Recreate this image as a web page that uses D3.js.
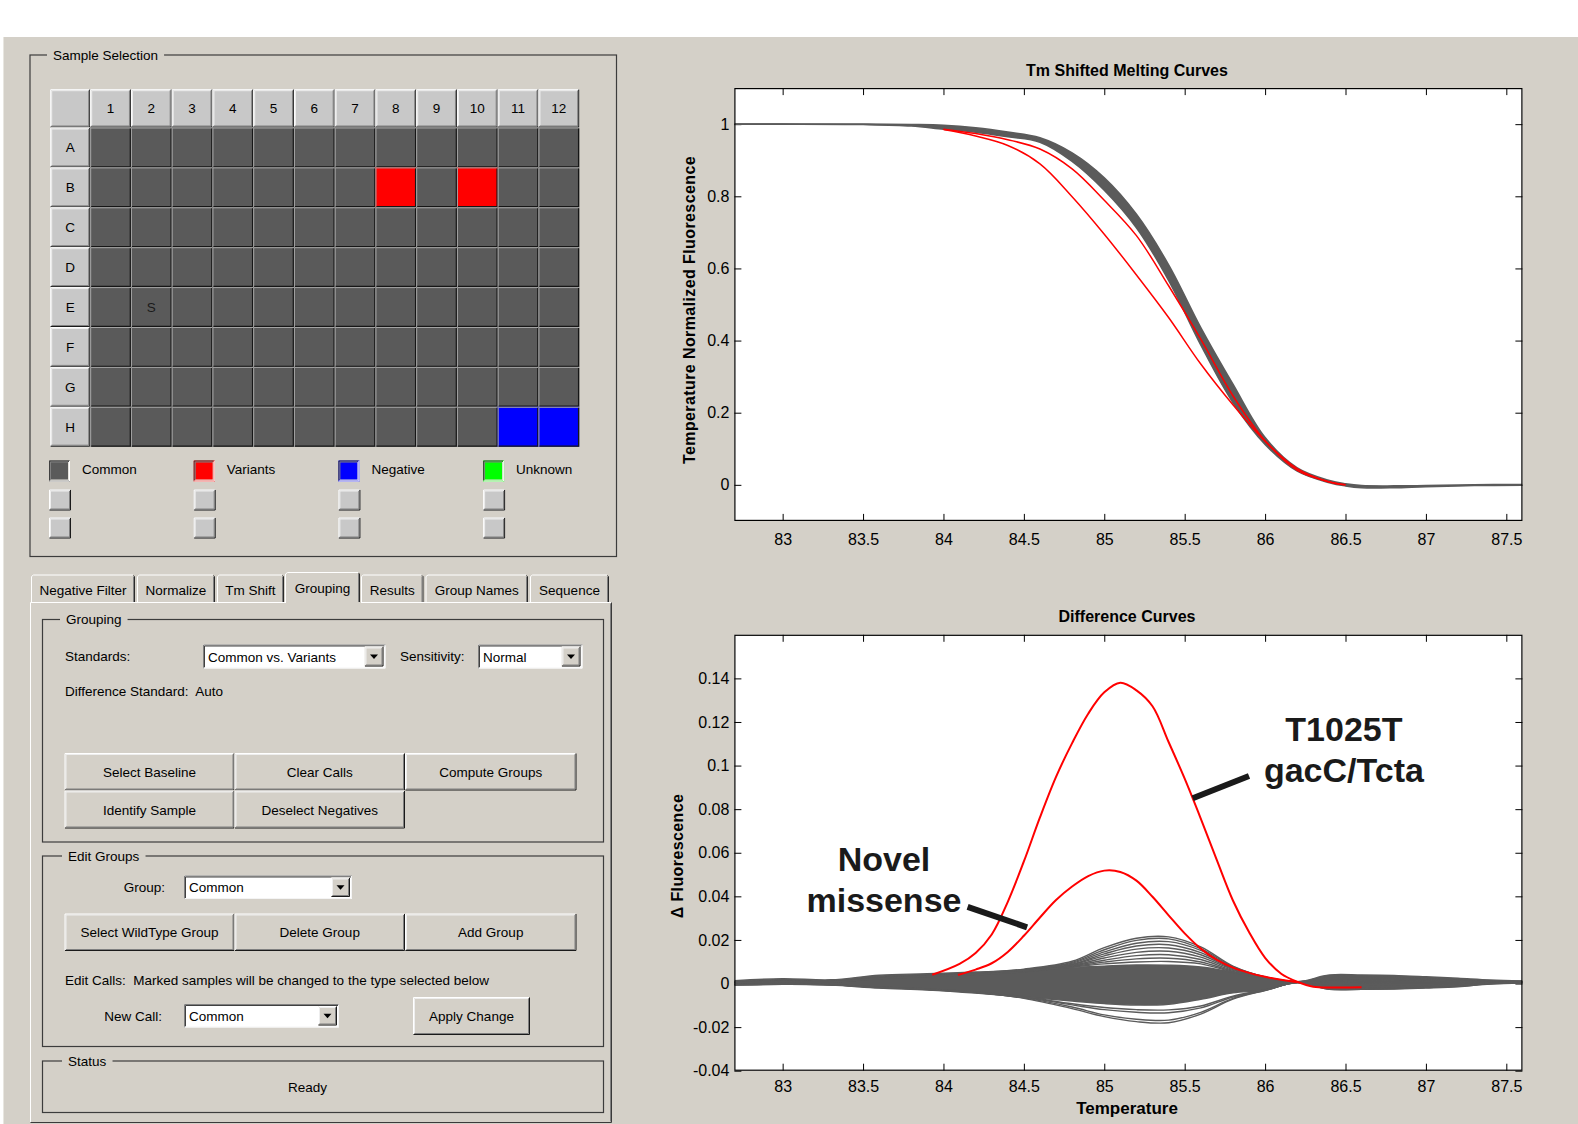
<!DOCTYPE html>
<html><head><meta charset="utf-8">
<script src="https://cdn.jsdelivr.net/npm/d3@7"></script>
<style>
html,body{margin:0;padding:0;background:#fff;}
svg{display:block;font-family:"Liberation Sans",Arial,sans-serif;}
text{white-space:pre;}
</style></head><body>
<svg id="root" width="1578" height="1124"></svg>
<script>
// ---------------- DATA ----------------
const plateRows = ["A","B","C","D","E","F","G","H"];
const plateCols = [1,2,3,4,5,6,7,8,9,10,11,12];
const variantWells = ["B8","B10"];
const negativeWells = ["H11","H12"];
const unknownWells = [];
const markedWells = [{well:"E2", mark:"S"}];
const legendLabels = ["Common","Variants","Negative","Unknown"];
const tabNames = ["Negative Filter","Normalize","Tm Shift","Grouping","Results","Group Names","Sequence"];

const xTickValues = [83, 83.5, 84, 84.5, 85, 85.5, 86, 86.5, 87, 87.5];
const meltYTicks = [0, 0.2, 0.4, 0.6, 0.8, 1];
const diffYTicks = [-0.04, -0.02, 0, 0.02, 0.04, 0.06, 0.08, 0.1, 0.12, 0.14];

// Tm shifted melting curves (temperature, normalized fluorescence)
const meltT = [82.7, 83.0, 83.5, 83.8, 84.0, 84.2, 84.4, 84.6, 84.8, 85.0, 85.2, 85.4, 85.6, 85.8, 86.0, 86.2, 86.4, 86.5, 86.6, 86.8, 87.0, 87.3, 87.6];
const commonLateMelt  = [1.000, 1.000, 1.000, 0.999, 0.997, 0.990, 0.978, 0.962, 0.920, 0.851, 0.750, 0.610, 0.436, 0.279, 0.131, 0.047, 0.012, 0.003, -0.002, -0.003, -0.002, 0.000, 0.001];
const commonEarlyMelt = [1.000, 1.000, 0.999, 0.995, 0.986, 0.978, 0.965, 0.950, 0.897, 0.817, 0.713, 0.567, 0.388, 0.228, 0.112, 0.038, 0.006, -0.003, -0.008, -0.008, -0.005, -0.002, -0.001];
const variantMeltA = [null, null, null, null, 0.986, 0.974, 0.957, 0.931, 0.876, 0.789, 0.691, 0.552, 0.404, 0.247, 0.122, 0.040, 0.008, 0.000, null, null, null, null, null];
const variantMeltB = [null, null, null, null, 0.985, 0.967, 0.941, 0.890, 0.799, 0.695, 0.582, 0.464, 0.335, 0.222, 0.121, 0.045, 0.008, 0.000, null, null, null, null, null];

// Difference curves
const diffT = [82.7, 83.0, 83.3, 83.6, 83.9, 84.2, 84.5, 84.8, 85.0, 85.2, 85.4, 85.6, 85.8, 86.0, 86.2, 86.4, 86.6, 86.8, 87.0, 87.2, 87.4, 87.6];
const diffCoreHi = [0.0013, 0.0022, 0.0017, 0.0038, 0.0045, 0.0053, 0.0060, 0.0074, 0.0080, 0.0085, 0.0084, 0.0076, 0.0052, 0.0025, 0.0008, 0.0039, 0.0039, 0.0037, 0.0031, 0.0024, 0.0016, 0.0012];
const diffCoreLo = [-0.0007, -0.0002, -0.0007, -0.0021, -0.0030, -0.0044, -0.0062, -0.0080, -0.0092, -0.0099, -0.0095, -0.0072, -0.0043, -0.0030, 0.0004, -0.0027, -0.0027, -0.0025, -0.0021, -0.0015, 0.0000, 0.0004];
const commonDiffUp1 = [0.0006, 0.0012, 0.0010, 0.0026, 0.0036, 0.0049, 0.0066, 0.0102, 0.0165, 0.0208, 0.0214, 0.0168, 0.0080, 0.0030, 0.0008, 0.0032, 0.0034, 0.0032, 0.0026, 0.0019, 0.0012, 0.0009];
const commonDiffUp2 = [0.0006, 0.0012, 0.0010, 0.0026, 0.0036, 0.0048, 0.0064, 0.0097, 0.0155, 0.0198, 0.0205, 0.0160, 0.0077, 0.0030, 0.0008, 0.0028, 0.0030, 0.0028, 0.0022, 0.0016, 0.0011, 0.0009];
const commonDiffUp3 = [0.0006, 0.0011, 0.0010, 0.0025, 0.0035, 0.0047, 0.0062, 0.0093, 0.0145, 0.0185, 0.0192, 0.0152, 0.0074, 0.0029, 0.0008, 0.0024, 0.0026, 0.0024, 0.0019, 0.0014, 0.0010, 0.0009];
const commonDiffUp4 = [0.0006, 0.0011, 0.0010, 0.0025, 0.0035, 0.0046, 0.0060, 0.0089, 0.0136, 0.0172, 0.0178, 0.0142, 0.0071, 0.0028, 0.0008, 0.0020, 0.0022, 0.0021, 0.0017, 0.0013, 0.0009, 0.0008];
const commonDiffUp5 = [0.0005, 0.0010, 0.0009, 0.0024, 0.0034, 0.0045, 0.0058, 0.0086, 0.0127, 0.0158, 0.0163, 0.0132, 0.0068, 0.0028, 0.0008, 0.0016, 0.0018, 0.0017, 0.0014, 0.0011, 0.0008, 0.0008];
const commonDiffUp6 = [0.0005, 0.0010, 0.0009, 0.0024, 0.0034, 0.0044, 0.0057, 0.0083, 0.0117, 0.0143, 0.0148, 0.0121, 0.0064, 0.0027, 0.0007, 0.0012, 0.0014, 0.0013, 0.0011, 0.0009, 0.0007, 0.0007];
const commonDiffUp7 = [0.0005, 0.0009, 0.0008, 0.0023, 0.0033, 0.0043, 0.0056, 0.0080, 0.0107, 0.0128, 0.0132, 0.0110, 0.0060, 0.0026, 0.0007, 0.0008, 0.0010, 0.0010, 0.0008, 0.0007, 0.0006, 0.0006];
const commonDiffUp8 = [0.0005, 0.0009, 0.0008, 0.0023, 0.0033, 0.0042, 0.0055, 0.0078, 0.0098, 0.0113, 0.0116, 0.0099, 0.0056, 0.0026, 0.0007, 0.0004, 0.0006, 0.0006, 0.0005, 0.0005, 0.0005, 0.0006];
const commonDiffUp9 = [0.0004, 0.0008, 0.0007, 0.0022, 0.0032, 0.0041, 0.0054, 0.0076, 0.0090, 0.0099, 0.0101, 0.0090, 0.0053, 0.0025, 0.0007, 0.0000, 0.0002, 0.0003, 0.0003, 0.0003, 0.0004, 0.0005];
const commonDiffLo1 = [-0.0006, -0.0004, -0.0006, -0.0018, -0.0028, -0.0042, -0.0068, -0.0115, -0.0152, -0.0175, -0.0180, -0.0140, -0.0072, -0.0032, 0.0004, -0.0026, -0.0026, -0.0024, -0.0019, -0.0013, -0.0002, 0.0002];
const commonDiffLo2 = [-0.0006, -0.0004, -0.0006, -0.0018, -0.0027, -0.0041, -0.0066, -0.0108, -0.0144, -0.0164, -0.0168, -0.0132, -0.0068, -0.0031, 0.0004, -0.0022, -0.0023, -0.0021, -0.0017, -0.0011, -0.0001, 0.0002];
const commonDiffLo3 = [-0.0005, -0.0003, -0.0006, -0.0017, -0.0026, -0.0040, -0.0063, -0.0098, -0.0120, -0.0132, -0.0134, -0.0112, -0.0062, -0.0030, 0.0004, -0.0018, -0.0019, -0.0018, -0.0014, -0.0009, 0.0000, 0.0003];
const commonDiffLo4 = [-0.0005, -0.0003, -0.0005, -0.0017, -0.0025, -0.0039, -0.0061, -0.0093, -0.0110, -0.0120, -0.0121, -0.0103, -0.0058, -0.0029, 0.0004, -0.0014, -0.0015, -0.0014, -0.0011, -0.0007, 0.0001, 0.0003];

const t1025tT = [83.93, 84.1, 84.2, 84.3, 84.4, 84.5, 84.6, 84.7, 84.8, 84.9, 85.0, 85.1, 85.2, 85.3, 85.4, 85.5, 85.6, 85.7, 85.8, 85.9, 86.0, 86.1, 86.2, 86.3, 86.45, 86.6];
const t1025tV = [0.0040, 0.0090, 0.0140, 0.0225, 0.0375, 0.0560, 0.0762, 0.0948, 0.1103, 0.1238, 0.1336, 0.1380, 0.1345, 0.1272, 0.1108, 0.0940, 0.0757, 0.0566, 0.0381, 0.0236, 0.0118, 0.0045, 0.0008, -0.0015, -0.0018, -0.0017];
const novelT = [84.09, 84.2, 84.3, 84.4, 84.5, 84.6, 84.7, 84.8, 84.9, 85.0, 85.1, 85.2, 85.3, 85.4, 85.5, 85.6, 85.7, 85.8, 85.9, 86.0, 86.1, 86.2];
const novelV = [0.0039, 0.0064, 0.0093, 0.0145, 0.0219, 0.0303, 0.0383, 0.0445, 0.0493, 0.0518, 0.0512, 0.0472, 0.0398, 0.0313, 0.0230, 0.0160, 0.0108, 0.0073, 0.0049, 0.0031, 0.0017, 0.0006];

// annotations in data coordinates
const annotations = [
  {lines:["T1025T","gacC/Tcta"], textT:86.49, textV:[0.1113, 0.0925], from:[85.55, 0.0850], to:[85.90, 0.0952]},
  {lines:["Novel","missense"], textT:83.63, textV:[0.0516, 0.0328], from:[84.52, 0.0258], to:[84.15, 0.0352]}
];

// ---------------- DRAW ----------------
const W = 1578, H = 1124;
const BG = "#d4d0c8", WELL = "#5a5a5a", CURVE = "#5b5b5b";
const FONT = '"Liberation Sans", Arial, sans-serif';
const svg = d3.select("#root");
svg.append("rect").attr("width", W).attr("height", H).attr("fill", "#fff");
svg.append("rect").attr("x", 3).attr("y", 37).attr("width", W - 3).attr("height", H - 37).attr("fill", BG);
svg.append("line").attr("x1", 3.5).attr("x2", 3.5).attr("y1", 37).attr("y2", H).attr("stroke", "#e8e6e0");

function txt(g, x, y, s, o = {}) {
  return g.append("text").attr("x", x).attr("y", y).text(s)
    .attr("font-size", o.size || 13.5).attr("text-anchor", o.anchor || "start")
    .attr("font-weight", o.weight || "normal").attr("fill", o.fill || "#000")
    .attr("font-family", FONT);
}
function bevel(g, x, y, w, h, fill, sunken) {
  g.append("rect").attr("x", x).attr("y", y).attr("width", w).attr("height", h).attr("fill", fill);
  const tl = sunken ? "#404040" : "#ffffff", br = sunken ? "#ffffff" : "#1a1a1a";
  const tl2 = sunken ? "#808080" : "#eeeeee", br2 = sunken ? "#e4e2dc" : "#808080";
  g.append("path").attr("d", `M${x+0.5},${y+h-1} V${y+0.5} H${x+w-1}`).attr("stroke", tl).attr("fill", "none");
  g.append("path").attr("d", `M${x+0.5},${y+h-0.5} H${x+w-0.5} V${y+0.5}`).attr("stroke", br).attr("fill", "none");
  g.append("path").attr("d", `M${x+1.5},${y+h-2} V${y+1.5} H${x+w-2}`).attr("stroke", tl2).attr("fill", "none");
  g.append("path").attr("d", `M${x+1.5},${y+h-1.5} H${x+w-1.5} V${y+1.5}`).attr("stroke", br2).attr("fill", "none");
}
function groupBox(g, x, y, w, h, title, tx) {
  g.append("rect").attr("x", x + 0.5).attr("y", y + 0.5).attr("width", w).attr("height", h)
    .attr("fill", "none").attr("stroke", "#3c3c3c").attr("stroke-width", 1.2);
  const t = txt(g, tx, y + 5, title);
  const bb = t.node().getBBox();
  g.insert("rect", "text:last-of-type").attr("x", bb.x - 6).attr("y", y - 3).attr("width", bb.width + 12).attr("height", 6).attr("fill", BG);
  t.raise();
}
function button(g, x, y, w, h, label) {
  bevel(g, x, y, w, h, BG, false);
  txt(g, x + w / 2, y + h / 2 + 5, label, {anchor: "middle"});
}
function dropdown(g, x, y, w, h, label) {
  g.append("rect").attr("x", x).attr("y", y).attr("width", w).attr("height", h).attr("fill", "#fff");
  g.append("path").attr("d", `M${x+0.5},${y+h} V${y+0.5} H${x+w}`).attr("stroke", "#808080").attr("fill", "none");
  g.append("path").attr("d", `M${x+1.5},${y+h-1} V${y+1.5} H${x+w-1}`).attr("stroke", "#404040").attr("fill", "none");
  g.append("path").attr("d", `M${x+0.5},${y+h-0.5} H${x+w-0.5} V${y+0.5}`).attr("stroke", "#f4f4f4").attr("fill", "none");
  txt(g, x + 5, y + h / 2 + 5, label);
  const bx = x + w - 21, by = y + 2, bw = 19, bh = h - 4;
  bevel(g, bx, by, bw, bh, BG, false);
  const cx = bx + bw / 2, cy = by + bh / 2;
  g.append("path").attr("d", `M${cx-4},${cy-2} H${cx+4} L${cx},${cy+2.5} Z`).attr("fill", "#000");
}

// ----- Sample selection plate -----
const gP = svg.append("g");
groupBox(gP, 29.5, 54.5, 586.5, 501.5, "Sample Selection", 53);
const colX = d3.scaleBand().domain(plateCols).range([90.2, 579.2]);
const rowY = d3.scaleBand().domain(plateRows).range([127.5, 446.7]);
const HDR = "#c8c8c8";
bevel(gP, 50.2, 89.2, 40, 38.3, HDR, false);
plateCols.forEach(c => {
  bevel(gP, colX(c), 89.2, colX.bandwidth(), 38.3, HDR, false);
  txt(gP, colX(c) + colX.bandwidth() / 2, 89.2 + 24, String(c), {anchor: "middle"});
});
plateRows.forEach(r => {
  bevel(gP, 50.2, rowY(r), 40, rowY.bandwidth(), HDR, false);
  txt(gP, 70.2, rowY(r) + rowY.bandwidth() / 2 + 5, r, {anchor: "middle"});
});
function wellColor(id) {
  if (variantWells.includes(id)) return "#ff0000";
  if (negativeWells.includes(id)) return "#0000ff";
  if (unknownWells.includes(id)) return "#00ff00";
  return WELL;
}
plateRows.forEach(r => plateCols.forEach(c => {
  const id = r + c, x = colX(c), y = rowY(r), w = colX.bandwidth(), h = rowY.bandwidth();
  gP.append("rect").attr("x", x).attr("y", y).attr("width", w).attr("height", h).attr("fill", wellColor(id));
  gP.append("path").attr("d", `M${x+0.5},${y+h} V${y+0.5} H${x+w}`).attr("stroke", "#a4a4a4").attr("fill", "none");
  gP.append("path").attr("d", `M${x+1},${y+h-0.6} H${x+w-0.6} V${y+1}`).attr("stroke", "#161616").attr("stroke-width", 1.3).attr("fill", "none");
}));
markedWells.forEach(m => {
  const r = m.well[0], c = +m.well.slice(1);
  txt(gP, colX(c) + colX.bandwidth() / 2, rowY(r) + rowY.bandwidth() / 2 + 5, m.mark, {anchor: "middle", fill: "#1a1a1a"});
});
const legColors = [WELL, "#ff0000", "#0000ff", "#00ff00"];
legendLabels.forEach((lab, i) => {
  const x = 49 + i * 144.7;
  bevel(gP, x, 460.5, 21, 21, legColors[i], true);
  txt(gP, x + 33, 474, lab);
  bevel(gP, x, 489.5, 22, 21, "#c8c8c8", false);
  bevel(gP, x, 517.5, 22, 21, "#c8c8c8", false);
});

// ----- Tabs and grouping panel -----
const gT = svg.append("g");
const tabEdges = [31, 137, 217, 286, 361, 425.5, 530, 611];
const selTab = 3;
gT.append("path").attr("d", `M30.5,1122 V602.5 H${tabEdges[selTab]} M${tabEdges[selTab+1]},602.5 H611.5`).attr("stroke", "#fff").attr("fill", "none");
gT.append("path").attr("d", `M611.5,602.5 V1122.5 H30.5`).attr("stroke", "#3a3a3a").attr("fill", "none");
gT.append("path").attr("d", `M610.5,603.5 V1121.5`).attr("stroke", "#808080").attr("fill", "none");
tabNames.forEach((name, i) => {
  const x0 = tabEdges[i] + (i === selTab ? -1 : 0), x1 = tabEdges[i + 1] - 2 + (i === selTab ? 1 : 0);
  const ty = i === selTab ? 572 : 574.5;
  gT.append("path").attr("d", `M${x0+0.5},602.5 V${ty+2} L${x0+2.5},${ty+0.5} H${x1-2}`).attr("stroke", "#fff").attr("fill", "none");
  gT.append("path").attr("d", `M${x1-1.5},${ty+1} L${x1-0.5},${ty+2} V602`).attr("stroke", "#2a2a2a").attr("fill", "none");
  gT.append("path").attr("d", `M${x1-1.5},${ty+2} V602`).attr("stroke", "#808080").attr("fill", "none");
  txt(gT, (x0 + x1) / 2, i === selTab ? 593 : 595, name, {anchor: "middle"});
});

groupBox(gT, 42, 619, 561, 222.5, "Grouping", 66);
txt(gT, 65, 661, "Standards:");
dropdown(gT, 203, 644.5, 182.5, 24, "Common vs. Variants");
txt(gT, 400, 661, "Sensitivity:");
dropdown(gT, 478, 644.5, 104.5, 24, "Normal");
txt(gT, 65, 695.5, "Difference Standard:  Auto");
button(gT, 64.5, 753, 170, 37.5, "Select Baseline");
button(gT, 234.5, 753, 170.5, 37.5, "Clear Calls");
button(gT, 405, 753, 171.5, 37.5, "Compute Groups");
button(gT, 64.5, 790.5, 170, 38, "Identify Sample");
button(gT, 234.5, 790.5, 170.5, 38, "Deselect Negatives");

groupBox(gT, 42, 855.5, 561, 190.5, "Edit Groups", 68);
txt(gT, 165, 891.5, "Group:", {anchor: "end"});
dropdown(gT, 184, 875.5, 168, 23.5, "Common");
button(gT, 64.5, 913.5, 170, 37.5, "Select WildType Group");
button(gT, 234.5, 913.5, 170.5, 37.5, "Delete Group");
button(gT, 405, 913.5, 171.5, 37.5, "Add Group");
txt(gT, 65, 984.5, "Edit Calls:  Marked samples will be changed to the type selected below");
txt(gT, 162, 1020.5, "New Call:", {anchor: "end"});
dropdown(gT, 184, 1004, 155, 23.5, "Common");
button(gT, 413, 997, 117, 38, "Apply Change");

groupBox(gT, 42, 1060.5, 561, 51.5, "Status", 68);
txt(gT, 307.6, 1091.5, "Ready", {anchor: "middle"});

// ----- Charts -----
const defs = svg.append("defs");
function axesFrame(id, x, y, xTicks, yTicks, xPad) {
  const g = svg.append("g");
  const [x0, x1] = x.range(), [y0, y1] = y.range();
  g.append("rect").attr("x", x0).attr("y", y1).attr("width", x1 - x0).attr("height", y0 - y1).attr("fill", "#fff");
  defs.append("clipPath").attr("id", id).append("rect").attr("x", x0).attr("y", y1).attr("width", x1 - x0).attr("height", y0 - y1);
  const fmt = d => String(d);
  const axes = [
    g.append("g").attr("transform", `translate(0,${y0})`).call(d3.axisBottom(x).tickValues(xTicks).tickSizeInner(-7).tickSizeOuter(0).tickPadding(xPad).tickFormat(fmt)),
    g.append("g").attr("transform", `translate(0,${y1})`).call(d3.axisTop(x).tickValues(xTicks).tickSizeInner(-7).tickSizeOuter(0).tickFormat(() => "")),
    g.append("g").attr("transform", `translate(${x0},0)`).call(d3.axisLeft(y).tickValues(yTicks).tickSizeInner(-7).tickSizeOuter(0).tickPadding(5).tickFormat(fmt)),
    g.append("g").attr("transform", `translate(${x1},0)`).call(d3.axisRight(y).tickValues(yTicks).tickSizeInner(-7).tickSizeOuter(0).tickFormat(() => ""))
  ];
  axes.forEach(a => {
    a.select(".domain").remove();
    a.attr("font-family", FONT).attr("font-size", 16);
    a.selectAll("line").attr("stroke", "#000");
    a.selectAll("text").attr("fill", "#000");
  });
  const data = g.append("g").attr("clip-path", `url(#${id})`);
  const box = () => g.append("rect").attr("x", x0 + 0.5).attr("y", y1 + 0.5).attr("width", x1 - x0 - 1).attr("height", y0 - y1 - 1)
      .attr("fill", "none").attr("stroke", "#000").attr("stroke-width", 1.2);
  return {g, data, box};
}
const CURVE_T = d3.curveCatmullRom.alpha(0.5);
const lineGen = (x, y) => d3.line().defined(d => d[1] != null).x(d => x(d[0])).y(d => y(d[1])).curve(CURVE_T);
const zipT = (T, V) => T.map((t, i) => [t, V[i]]);

// Top chart
const xTop = d3.scaleLinear().domain([82.7, 87.6]).range([734.4, 1522.4]);
const yTop = d3.scaleLinear().domain([-0.1, 1.1]).range([520.9, 88.1]);
const chartTop = axesFrame("clipTop", xTop, yTop, xTickValues, meltYTicks, 13);
const bandTop = meltT.map((t, i) => ({t, lo: commonEarlyMelt[i], hi: commonLateMelt[i]}));
chartTop.data.append("path").datum(bandTop)
  .attr("d", d3.area().x(d => xTop(d.t)).y0(d => yTop(d.lo)).y1(d => yTop(d.hi)).curve(CURVE_T))
  .attr("fill", CURVE);
[commonLateMelt, commonEarlyMelt].forEach(v => chartTop.data.append("path").datum(zipT(meltT, v))
  .attr("d", lineGen(xTop, yTop)).attr("fill", "none").attr("stroke", CURVE).attr("stroke-width", 1.6));
[variantMeltA, variantMeltB].forEach(v => chartTop.data.append("path").datum(zipT(meltT, v))
  .attr("d", lineGen(xTop, yTop)).attr("fill", "none").attr("stroke", "#ff0000").attr("stroke-width", 1.5));
chartTop.box();
txt(chartTop.g, 1127, 75.5, "Tm Shifted Melting Curves", {anchor: "middle", weight: "bold", size: 16});
chartTop.g.append("text").attr("transform", "translate(695,310) rotate(-90)").attr("text-anchor", "middle")
  .attr("font-family", FONT).attr("font-weight", "bold").attr("font-size", 16).attr("letter-spacing", 0.4)
  .text("Temperature Normalized Fluorescence");

// Bottom chart
const xBot = d3.scaleLinear().domain([82.7, 87.6]).range([734.4, 1522.4]);
const yBot = d3.scaleLinear().domain([-0.04, 0.16]).range([1070.7, 634.8]);
const chartBot = axesFrame("clipBot", xBot, yBot, xTickValues, diffYTicks, 10);
const core = diffT.map((t, i) => ({t, lo: diffCoreLo[i], hi: diffCoreHi[i]}));
chartBot.data.append("path").datum(core)
  .attr("d", d3.area().x(d => xBot(d.t)).y0(d => yBot(d.lo)).y1(d => yBot(d.hi)).curve(CURVE_T))
  .attr("fill", CURVE);
const commonDiff = [commonDiffUp1, commonDiffUp2, commonDiffUp3, commonDiffUp4, commonDiffUp5, commonDiffUp6, commonDiffUp7, commonDiffUp8, commonDiffUp9,
  commonDiffLo1, commonDiffLo2, commonDiffLo3, commonDiffLo4, diffCoreHi, diffCoreLo];
commonDiff.forEach(v => chartBot.data.append("path").datum(zipT(diffT, v))
  .attr("d", lineGen(xBot, yBot)).attr("fill", "none").attr("stroke", CURVE).attr("stroke-width", 1.4));
[[t1025tT, t1025tV], [novelT, novelV]].forEach(([T, V]) => chartBot.data.append("path").datum(zipT(T, V))
  .attr("d", lineGen(xBot, yBot)).attr("fill", "none").attr("stroke", "#ff0000").attr("stroke-width", 2));
chartBot.box();
txt(chartBot.g, 1127, 621.5, "Difference Curves", {anchor: "middle", weight: "bold", size: 16});
txt(chartBot.g, 1127, 1113.5, "Temperature", {anchor: "middle", weight: "bold", size: 17});
chartBot.g.append("text").attr("transform", "translate(683,856) rotate(-90)").attr("text-anchor", "middle")
  .attr("font-family", FONT).attr("font-weight", "bold").attr("font-size", 16).attr("letter-spacing", 0.4)
  .text("Δ Fluorescence");

// annotations
annotations.forEach(a => {
  chartBot.g.append("line").attr("x1", xBot(a.from[0])).attr("y1", yBot(a.from[1])).attr("x2", xBot(a.to[0])).attr("y2", yBot(a.to[1]))
    .attr("stroke", "#1a1a1a").attr("stroke-width", 6);
  a.lines.forEach((s, i) => txt(chartBot.g, xBot(a.textT), yBot(a.textV[i]), s, {anchor: "middle", weight: "bold", size: 34, fill: "#1a1a1a"}));
});
</script>
</body></html>
